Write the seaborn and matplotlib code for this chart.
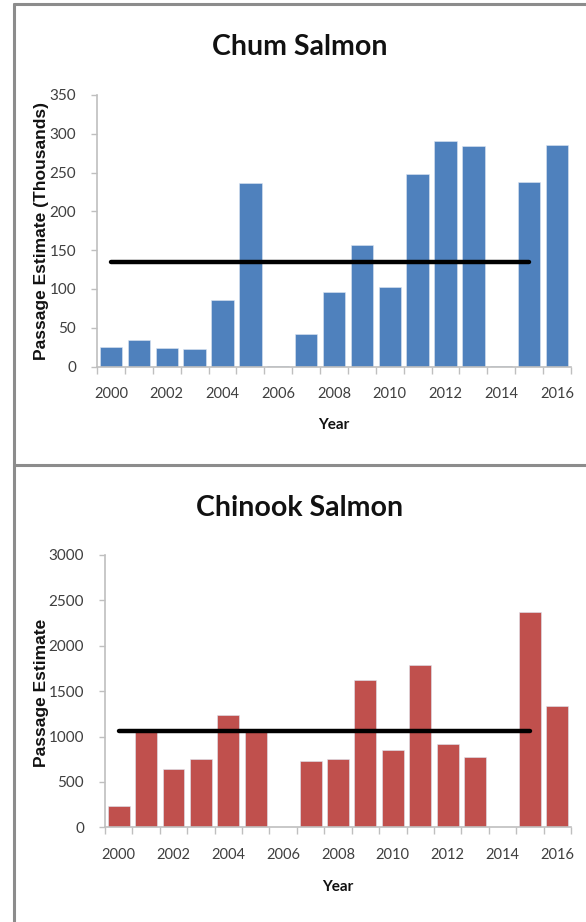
import matplotlib
matplotlib.use("Agg")
import matplotlib.pyplot as plt
from matplotlib.lines import Line2D
from matplotlib.ticker import FixedLocator
import numpy as np
import pandas as pd
import seaborn as sns

# ---- data -------------------------------------------------------------
years = list(range(2000, 2017))
chum_thousands = [25, 34.5, 24, 22.4, 85.2, 236.7, 1, 42.2, 96, 156, 103,
                  247.6, 291, 284, 1, 238, 285.4]
chinook = [235, 1060, 646, 752, 1237, 1070, 0, 730, 752, 1623, 852,
           1788, 918, 771, 0, 2375, 1340]
chum_average = 135
chinook_average = 1064
average_span = (2000, 2015)

titles = ["Chum Salmon", "Chinook Salmon"]
ylabels = ["Passage Estimate (Thousands)", "Passage Estimate"]
xlabel = "Year"
chum_yticks = [0, 50, 100, 150, 200, 250, 300, 350]
chinook_yticks = [0, 500, 1000, 1500, 2000, 2500, 3000]

# ---- style ------------------------------------------------------------
sns.set_theme(style="white")
body = ["Lato", "DejaVu Sans"]
heavy = ["Liberation Sans", "DejaVu Sans"]
plt.rcParams["font.family"] = body

W, H = 586, 922
fig = plt.figure(figsize=(W / 100, H / 100), dpi=100)

BLUE = "#4F81BD"
RED = "#C0504D"
AXIS_GREY = "#BFBFBF"
TICK_TXT = "#3F3F3F"


def fx(px):
    return px / W


def fy(py):
    return 1 - py / H


def panel(ax_box, values, avg, color, yticks, title, ylabel,
          title_y, ylabel_x, ylabel_y, xlabel_y):
    left, right, top, bottom = ax_box
    ax = fig.add_axes([fx(left), fy(bottom), fx(right) - fx(left),
                       fy(top) - fy(bottom)])
    df = pd.DataFrame({"Year": [str(y) for y in years], "Value": values})
    sns.barplot(data=df, x="Year", y="Value", color=color, saturation=1,
                width=0.8, edgecolor="#DCE6F2", linewidth=0.4, ax=ax)

    # long-term average line across the span of years
    i0 = years.index(average_span[0])
    i1 = years.index(average_span[1])
    ax.plot([i0, i1], [avg, avg], color="black", lw=3.2,
            solid_capstyle="round", zorder=5)

    ax.set_xlim(-0.5, len(years) - 0.5)
    ax.set_ylim(yticks[0], yticks[-1])
    ax.set_yticks(yticks)
    ax.set_yticklabels([str(t) for t in yticks], fontsize=11,
                       color=TICK_TXT, family=body)
    ax.set_xticks(range(0, len(years), 2))
    ax.set_xticklabels([str(y) for y in years[::2]], fontsize=10.5,
                       color=TICK_TXT, family=body)
    ax.xaxis.set_minor_locator(FixedLocator(np.arange(-0.5, len(years), 1)))
    ax.tick_params(axis="x", which="major", length=0, pad=15)
    ax.tick_params(axis="x", which="minor", length=5, width=1,
                   color=AXIS_GREY, direction="out", bottom=True)
    ax.tick_params(axis="y", which="major", length=4, width=1,
                   color=AXIS_GREY, direction="out", left=True, pad=11)
    ax.set_xlabel("")
    ax.set_ylabel("")
    for side in ["top", "right"]:
        ax.spines[side].set_visible(False)
    for side in ["left", "bottom"]:
        ax.spines[side].set_color(AXIS_GREY)
        ax.spines[side].set_linewidth(1.2)
    ax.grid(False)
    ax.set_facecolor("white")

    cx = (left + right) / 2
    fig.text(fx(300), fy(title_y), title, ha="center", va="center",
             fontsize=20.5, fontweight="bold", color="#111111", family=body)
    fig.text(fx(ylabel_x), fy(ylabel_y), ylabel, ha="center", va="center",
             rotation=90, fontsize=12.5, fontweight="bold", color="#111111",
             family=heavy)
    fig.text(fx(cx), fy(xlabel_y), xlabel, ha="center", va="center",
             fontsize=11, fontweight="bold", color="#111111", family=body)
    return ax


panel((97, 571, 95, 366.5), chum_thousands, chum_average, BLUE,
      chum_yticks, titles[0], ylabels[0], 47, 42, 231, 425)
panel((105, 571, 555, 827.3), chinook, chinook_average, RED,
      chinook_yticks, titles[1], ylabels[1], 508, 42, 693, 887)

# frame around the two panels
frame_kw = dict(color="#8C8C8C", lw=2.2, transform=fig.transFigure)
fig.add_artist(Line2D([fx(14), fx(14)], [fy(4.5), fy(922)], **frame_kw))
fig.add_artist(Line2D([fx(14), fx(586)], [fy(4.5), fy(4.5)], **frame_kw))
fig.add_artist(Line2D([fx(14), fx(586)], [fy(465), fy(465)], **frame_kw))

fig.savefig("out.png", dpi=100, facecolor="white")
